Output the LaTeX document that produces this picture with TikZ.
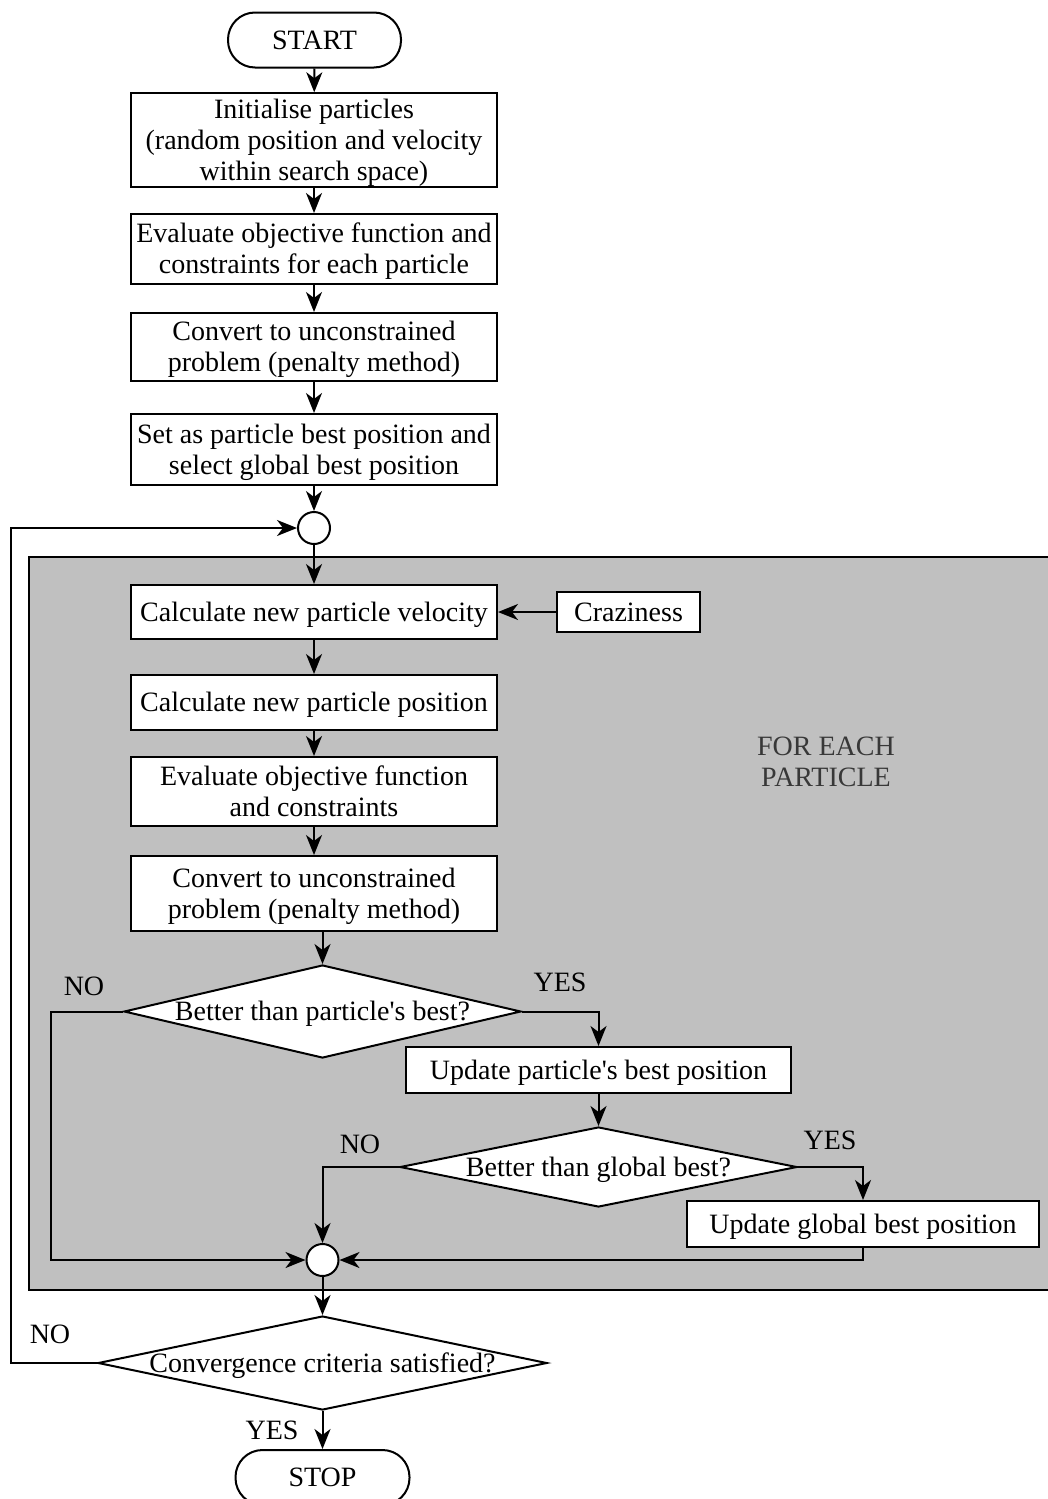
\documentclass[tikz,border=0pt]{standalone}
\usepackage{fontspec}
\setmainfont{Liberation Serif}[Ligatures=TeXOff]
\usetikzlibrary{arrows.meta,shapes.geometric}
\definecolor{boxgray}{HTML}{C0C0C0}
\newcommand{\mytop}{\rule{0pt}{25pt}}
\newcommand{\mybot}{\rule[-6.5pt]{0pt}{6.5pt}}
\begin{document}
\begin{tikzpicture}[x=1pt,y=-1pt,
  every node/.style={font=\fontsize{28}{31}\selectfont},
  lw/.style={line width=2pt},
  proc/.style={lw,draw,fill=white,inner sep=0pt,align=center,minimum width=366pt},
  term/.style={lw,draw,fill=white,rounded corners=27pt,inner sep=0pt,minimum height=55pt},
  junc/.style={lw,draw,fill=white,circle,inner sep=0pt,minimum size=32pt},
  dec/.style={lw,draw,fill=white,diamond,inner sep=0pt},
  arr/.style={lw,-{Stealth[length=20pt,width=16pt,inset=6pt]}},
  lbl/.style={inner sep=0pt}
]
\useasboundingbox (0,0) rectangle (1047,1499);
% loop background
\node[lw,draw,fill=boxgray,anchor=north west,minimum width=1040pt,minimum height=733pt,inner sep=0pt] (loopbox) at (28,556) {};
\node[lbl,text=black!78,align=center] (foreach) at (826,762) {\mytop FOR EACH\\PARTICLE\mybot};

\node[term,minimum width=173pt] (start) at (314.5,40) {\mytop START\mybot};
\node[proc,minimum height=92pt] (b1) at (314,140) {\mytop Initialise particles\\(random position and velocity\\within search space)\mybot};
\node[proc,minimum height=70pt] (b2) at (314,249) {\mytop Evaluate objective function and\\constraints for each particle\mybot};
\node[proc,minimum height=68pt] (b3) at (314,347) {\mytop Convert to unconstrained\\problem (penalty method)\mybot};
\node[proc,minimum height=71pt] (b4) at (314,449.5) {\mytop Set as particle best position and\\select global best position\mybot};
\node[junc] (c1) at (314,528) {};

\node[proc,minimum height=54pt] (vel) at (314,612) {\mytop Calculate new particle velocity\mybot};
\node[lw,draw,fill=white,inner sep=0pt,minimum width=143pt,minimum height=40pt] (craz) at (628.5,612) {\mytop Craziness\mybot};
\node[proc,minimum height=55pt] (pos) at (314,702.5) {\mytop Calculate new particle position\mybot};
\node[proc,minimum height=69pt] (ev) at (314,791.5) {\mytop Evaluate objective function\\and constraints\mybot};
\node[proc,minimum height=75pt] (cv) at (314,893.5) {\mytop Convert to unconstrained\\problem (penalty method)\mybot};

\node[dec,minimum width=397pt,minimum height=93pt] (d1) at (322.5,1011.5) {\makebox[0pt]{\mytop Better than particle's best?\mybot}};
\node[proc,minimum width=385pt,minimum height=46pt] (up) at (598.5,1070) {\mytop Update particle's best position\mybot};
\node[dec,minimum width=397pt,minimum height=80pt] (d2) at (598.5,1167) {\makebox[0pt]{\mytop Better than global best?\mybot}};
\node[proc,minimum width=352pt,minimum height=46pt] (ug) at (863,1224) {\mytop Update global best position\mybot};
\node[junc] (c2) at (322.5,1260) {};

\node[dec,minimum width=449pt,minimum height=94pt] (d3) at (322.5,1363) {\makebox[0pt]{\mytop Convergence criteria satisfied?\mybot}};
\node[term,minimum width=174pt] (stop) at (322.5,1477.5) {\mytop STOP\mybot};

% labels
\node[lbl] (no1) at (84,986) {\mytop NO\mybot};
\node[lbl] (yes1) at (560,982) {\mytop YES\mybot};
\node[lbl] (no2) at (360,1144) {\mytop NO\mybot};
\node[lbl] (yes2) at (830,1140) {\mytop YES\mybot};
\node[lbl] (no3) at (50,1334) {\mytop NO\mybot};
\node[lbl] (yes3) at (272,1430) {\mytop YES\mybot};

\coordinate (k1) at (51,1011.5);
\coordinate (k3) at (11,1363);

% connectors
\draw[arr] (start) -- (b1);
\draw[arr] (b1) -- (b2);
\draw[arr] (b2) -- (b3);
\draw[arr] (b3) -- (b4);
\draw[arr] (b4) -- (c1);
\draw[arr] (c1) -- (vel);
\draw[arr] (craz) -- (vel);
\draw[arr] (vel) -- (pos);
\draw[arr] (pos) -- (ev);
\draw[arr] (ev) -- (cv);
\draw[arr] (cv.south -| d1.north) -- (d1.north);
\draw[arr] (d1.east) -| (up.north);
\draw[arr] (d1.west) -- (k1) |- (c2.west);
\draw[arr] (up) -- (d2);
\draw[arr] (d2.west) -| (c2.north);
\draw[arr] (d2.east) -| (ug.north);
\draw[arr] (ug.south) |- (c2.east);
\draw[arr] (c2) -- (d3);
\draw[arr] (d3) -- (stop);
\draw[arr] (d3.west) -- (k3) |- (c1.west);
\end{tikzpicture}
\end{document}
